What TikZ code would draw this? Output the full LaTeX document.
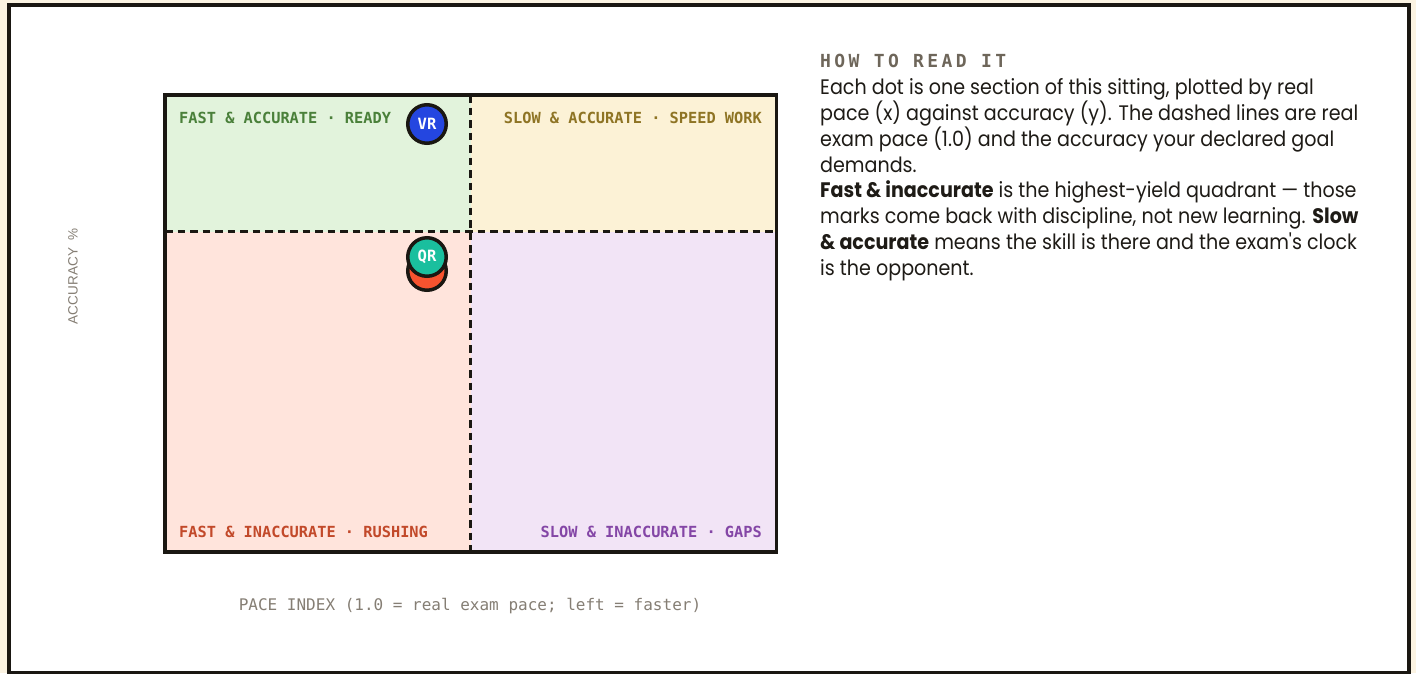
\documentclass[tikz,border=0pt]{standalone}
\usepackage{fontspec}
\newfontfamily\bodyfont[FakeStretch=0.91]{Poppins}
\newfontfamily\quadfont{DejaVu Sans Mono}
\newfontfamily\headfont[LetterSpace=19]{DejaVu Sans Mono}
\newfontfamily\accfont[LetterSpace=2]{Liberation Sans}

\definecolor{cream}{HTML}{FBF3E2}
\definecolor{ink}{HTML}{1A1712}
\definecolor{qgreen}{HTML}{E2F3DC}
\definecolor{qyellow}{HTML}{FCF2D6}
\definecolor{qred}{HTML}{FFE4DC}
\definecolor{qpurple}{HTML}{F2E4F6}
\definecolor{tgreen}{HTML}{4A803A}
\definecolor{tgold}{HTML}{8E7424}
\definecolor{tred}{HTML}{C2492A}
\definecolor{tpurple}{HTML}{8446A6}
\definecolor{dotblue}{HTML}{2446E0}
\definecolor{dotteal}{HTML}{1ABF9E}
\definecolor{dotred}{HTML}{F7532F}
\definecolor{axisgray}{HTML}{857E74}
\definecolor{headgray}{HTML}{6E665A}
\definecolor{bodyink}{HTML}{1E1B16}

\begin{document}
\begin{tikzpicture}[x=1pt,y=-1pt,
    quadlabel/.style={inner sep=0pt,font=\quadfont\bfseries\fontsize{15.3}{16}\selectfont},
    dot/.style={circle,draw=ink,line width=3.5pt,minimum size=38.5pt,inner sep=0pt,
      text=white,font=\quadfont\bfseries\fontsize{15.5}{16}\selectfont},
    guide/.style={ink,line width=2.6pt,dash pattern=on 7.5pt off 5pt}]
      \useasboundingbox[fill=cream] (0,0) rectangle (1416,673);
      \draw[ink,fill=white,line width=4pt] (9,5) rectangle (1409,673);
      % quadrants
      \coordinate (tl) at (165,95);
      \coordinate (br) at (776.5,552);
      \coordinate (mid) at (470.5,231.5);
      \fill[qgreen] (tl) rectangle (mid);
      \fill[qyellow] (mid |- tl) rectangle (br |- mid);
      \fill[qred] (tl |- mid) rectangle (mid |- br);
      \fill[qpurple] (mid) rectangle (br);
      \draw[guide] (mid |- tl) -- (mid |- br);
      \draw[guide] (tl |- mid) -- (br |- mid);
      \draw[ink,line width=3.3pt] (tl) rectangle (br);
      \node[quadlabel,tgreen,anchor=west] (fastacc) at (179,118) {FAST \& ACCURATE · READY};
      \node[quadlabel,tgold,anchor=east] (slowacc) at (762,118) {SLOW \& ACCURATE · SPEED WORK};
      \node[quadlabel,tred,anchor=west] (fastinacc) at (179,532) {FAST \& INACCURATE · RUSHING};
      \node[quadlabel,tpurple,anchor=east] (slowinacc) at (762,532) {SLOW \& INACCURATE · GAPS};
      % dots
      \node[dot,fill=dotblue] (vr) at (427,124) {VR};
      \node[dot,fill=dotred] (qrback) at (427,271) {};
      \node[dot,fill=dotteal] (qr) at (427,257) {QR};
      % axes
      \node[inner sep=0pt,axisgray,font=\quadfont\fontsize{16}{18}\selectfont] (pace) at (470,606)
        {PACE INDEX (1.0 = real exam pace; left = faster)};
      \node[inner sep=0pt,axisgray,rotate=90,anchor=west,font=\accfont\fontsize{13.5}{14}\selectfont] (acc) at (73,325)
        {ACCURACY\hspace{7pt}\%};
      % how to read it
      \node[inner sep=0pt,anchor=west,headgray,font=\headfont\bfseries\fontsize{18}{18}\selectfont] (head) at (820,61)
        {HOW TO READ IT};
      \node[inner sep=0pt,anchor=north west,align=left,text=bodyink,
        font=\bodyfont\fontsize{21}{25.8}\selectfont] (body) at (820,78.5)
        {Each dot is one section of this sitting, plotted by real\\
         pace (x) against accuracy (y). The dashed lines are real\\
         exam pace (1.0) and the accuracy your declared goal\\
         demands.\\
         \textbf{Fast \& inaccurate} is the highest-yield quadrant — those\\
         marks come back with discipline, not new learning. \textbf{Slow}\\
         \textbf{\& accurate} means the skill is there and the exam's clock\\
         is the opponent.};
\end{tikzpicture}
\end{document}
